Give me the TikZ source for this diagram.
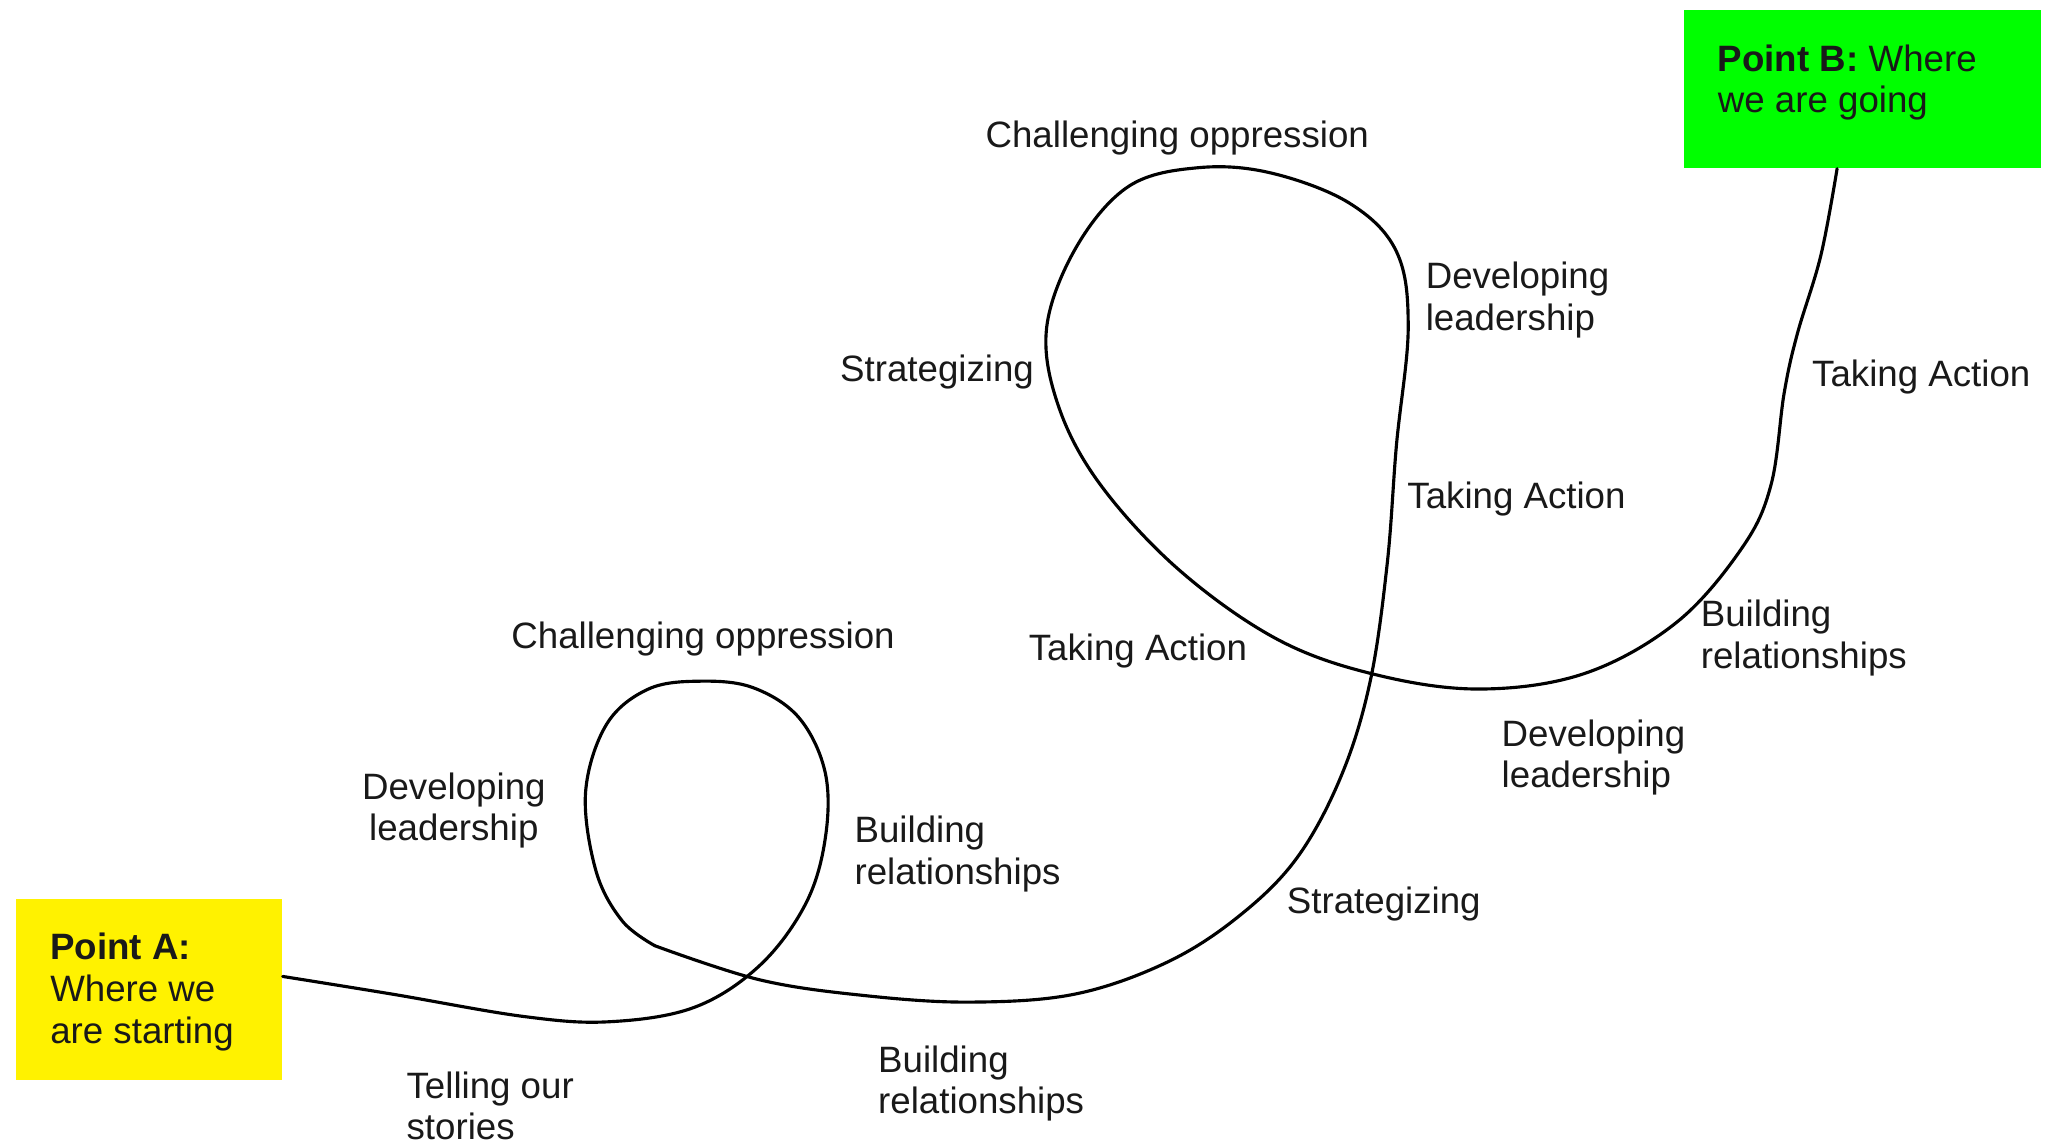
\documentclass[tikz,border=0pt]{standalone}
\usepackage{fontspec}
\setmainfont{Liberation Sans}
\usetikzlibrary{calc}
\begin{document}
\begin{tikzpicture}[x=0.5pt,y=-0.5pt,
  lbl/.style={anchor=west,inner sep=0pt,align=left,text=black!90,
    font=\fontsize{14pt}{15.75pt}\selectfont},
  lblc/.style={lbl,align=center},
  boxtext/.style={lbl,font=\fontsize{14pt}{16pt}\selectfont},
  goalbox/.style={inner sep=0pt,anchor=north west},
  road/.style={line width=1.2pt,line join=round,line cap=round}]
\useasboundingbox (0,0) rectangle (1568,876);
\fill[white] (0,0) rectangle (1568,876);

% start and destination boxes
\node[goalbox,fill=yellow,minimum width=101.5pt,minimum height=69pt] (A) at (12,686) {};
\node[goalbox,fill={rgb,255:red,0;green,255;blue,0},minimum width=136.5pt,minimum height=60.5pt] (B) at (1285,7) {};
\node[boxtext] (Atext) at (38,757) {\textbf{Point A:}\\Where we\\are starting};
\node[boxtext] (Btext) at (1311,63) {\textbf{Point B:} Where\\we are going};

% the winding road from A to B
\coordinate (start) at ($(A.east)+(0,-10)$);
\coordinate (kink) at (500,722);
\coordinate (finish) at ($(B.south)+(-19.5,0)$);
\draw[road] plot[smooth,tension=0.6] coordinates {(start) (300,759) (400,776) (465,780)
  (530,769) (580,737) (615,690) (630,640) (630,590) (610,548) (575,525)
  (535,520) (495,526) (463,553) (447,605) (455,665) (475,703) (kink)};
\draw[road] plot[smooth,tension=0.6] coordinates {(kink) (580,748) (660,760) (740,765)
  (820,759) (890,735) (945,700) (990,655) (1024,592) (1046,520) (1059,430) (1066,340)
  (1075,250) (1066,192) (1030,155) (970,132) (915,128) (862,142) (822,188) (799,250)
  (808,310) (840,370) (900,435) (975,488) (1050,515) (1130,526) (1210,514) (1280,475)
  (1330,418) (1352,370) (1362,300) (1372,255) (1390,195) (finish)};

% stages along the road
\node[lbl] (t1) at (310,844) {Telling our\\stories};
\node[lblc] (t2) at (276,619) {Developing\\leadership};
\node[lbl] (t3) at (390,488) {Challenging oppression};
\node[lbl] (t4) at (652,652) {Building\\relationships};
\node[lbl] (t5) at (670,827) {Building\\relationships};
\node[lbl] (t6) at (982,690) {Strategizing};
\node[lbl] (t7) at (1146,578) {Developing\\leadership};
\node[lbl] (t8) at (785,497) {Taking Action};
\node[lbl] (t9) at (1074,381) {Taking Action};
\node[lbl] (t10) at (641,284) {Strategizing};
\node[lbl] (t11) at (752,105) {Challenging oppression};
\node[lbl] (t12) at (1088,229) {Developing\\leadership};
\node[lbl] (t13) at (1298,487) {Building\\relationships};
\node[lbl] (t14) at (1383,288) {Taking Action};
\end{tikzpicture}
\end{document}
